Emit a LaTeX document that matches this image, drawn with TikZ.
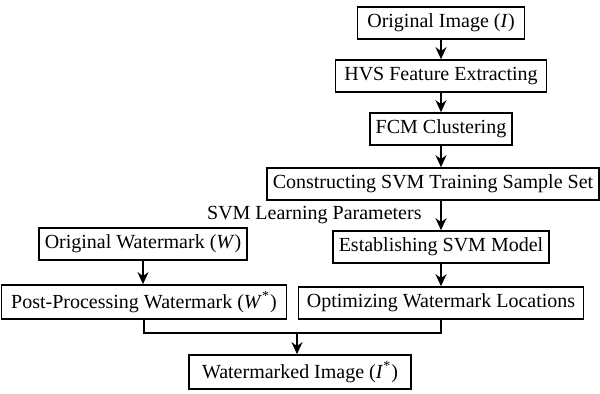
\documentclass[tikz,border=0pt]{standalone}
\usepackage{fontspec}
\setmainfont{Liberation Serif}
\usetikzlibrary{arrows.meta}
\begin{document}
\begin{tikzpicture}[
    x=0.5pt, y=-0.5pt,
    stepbox/.style={draw, line width=0.8pt, minimum height=16pt, inner xsep=3pt,
      font=\fontsize{10}{12}\selectfont},
    arr/.style={-{Stealth[length=6pt,width=5.5pt]}, line width=0.8pt},
    link/.style={line width=0.8pt}
    ]
  \useasboundingbox (0,0) rectangle (600,394);
  % main chain
  \node [stepbox, minimum width=83.5pt] (origimg) at (441,23) {Original Image (\textit{I}\/)};
  \node [stepbox, minimum width=105.5pt] (hvs) at (441,76) {HVS Feature Extracting};
  \node [stepbox, minimum width=71pt] (fcm) at (441,129) {FCM Clustering};
  \node [stepbox, minimum width=165pt] (sample) at (433,184) {Constructing SVM Training Sample Set};
  \node [stepbox, minimum width=105pt] (svmmodel) at (441,247) {Establishing SVM Model};
  \node [stepbox, minimum width=142.5pt] (optim) at (441,303) {Optimizing Watermark Locations};
  % watermark branch
  \node [stepbox, minimum width=103pt] (origwm) at (143,244) {Original Watermark (\textit{W}\/)};
  \node [stepbox, minimum width=142.5pt] (postwm) at (144,302) {Post-Processing Watermark (\textit{W}\textsuperscript{*})};
  \node [stepbox, minimum width=111pt] (wmimg) at (300,372) {Watermarked Image (\textit{I}\textsuperscript{*})};
  \coordinate (merge) at (297,333);

  \draw[arr] (origimg) -- (hvs);
  \draw[arr] (hvs) -- (fcm);
  \draw[arr] (fcm) -- (fcm |- sample.north);
  \draw[arr] (svmmodel.north |- sample.south) -- node[left=6pt, font=\fontsize{10}{12}\selectfont] {SVM Learning Parameters} (svmmodel);
  \draw[arr] (svmmodel) -- (optim);
  \draw[arr] (origwm) -- (origwm |- postwm.north);
  \draw[link] (postwm.south) |- (merge) -| (optim.south);
  \draw[arr] (merge) -- (merge |- wmimg.north);
\end{tikzpicture}
\end{document}
